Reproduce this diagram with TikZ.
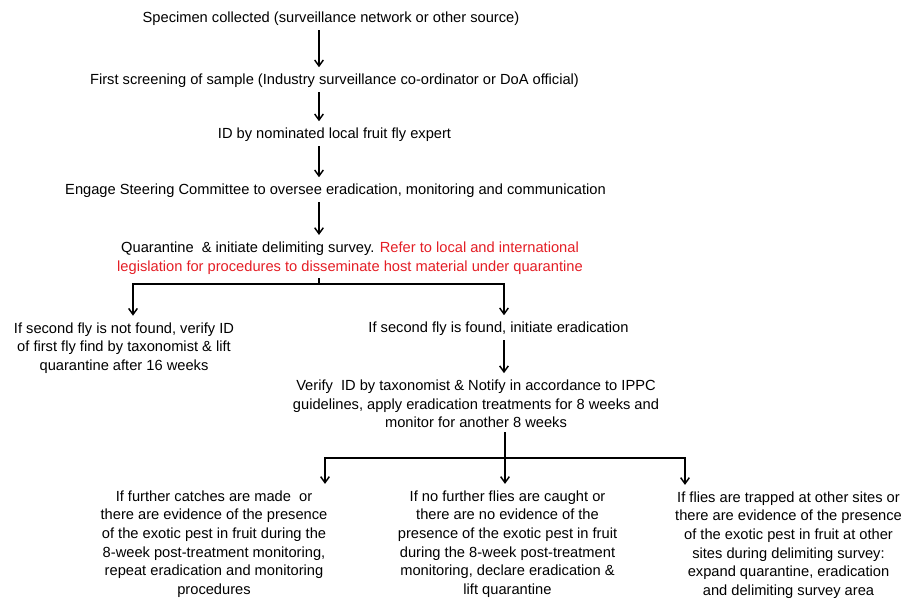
\documentclass[tikz,border=0pt]{standalone}
\usepackage{fontspec}
\setmainfont{Liberation Sans}
\usepackage{tikz}
\usetikzlibrary{arrows.meta}
\definecolor{legalred}{RGB}{228,30,37}
\tikzset{
  stage/.style={
    rectangle,
    %draw=black,
    align=center,
    inner sep=3pt,
    font=\fontsize{11}{13.9}\selectfont
    },
  arrow/.style={
    ->,
    >={Straight Barb[length=4.5pt,width=6.5pt]},
    line width=1.1pt,
    shorten >=2pt
    },
  branch/.style={
    line width=1.1pt
    }
}

\begin{document}
\begin{tikzpicture}[x=0.75pt,y=-0.75pt]
\useasboundingbox (0,0) rectangle (906,598);
\coordinate (trunk) at (319,0);
\coordinate (fork1) at (319,284);
\coordinate (lane1) at (133,0);
\coordinate (lane2) at (504,0);
\coordinate (fork2) at (505,458);
\coordinate (lane3) at (325,0);
\coordinate (lane4) at (685,0);
\node (start) [stage] at (331,19) {Specimen collected (surveillance network or other source)};
\node (node1) [stage] at (334.5,81) {First screening of sample (Industry surveillance co-ordinator or DoA official)};
\node (node2) [stage] at (334.5,135) {ID by nominated local fruit fly expert};
\node (node3) [stage] at (335.5,191) {Engage Steering Committee to oversee eradication, monitoring and communication};
\node (node4) [stage] at (350,258) {Quarantine\ \ \& initiate delimiting survey. \textcolor{legalred}{Refer to local and international}\\
  \textcolor{legalred}{legislation for procedures to disseminate host material under quarantine}};
\node (node5) [stage] at (124,348) {If second fly is not found, verify ID\\ of first fly find by taxonomist \& lift\\ quarantine after 16 weeks};
\node (node6) [stage] at (498.5,329) {If second fly is found, initiate eradication};
\node (node7) [stage] at (476,404) {Verify\ \ ID by taxonomist \& Notify in accordance to IPPC\\ guidelines, apply eradication treatments for 8 weeks and\\ monitor for another 8 weeks};
\node (node8) [stage] at (214,544) {If further catches are made\ \ or\\ there are evidence of the presence\\ of the exotic pest in fruit during the\\ 8-week post-treatment monitoring,\\ repeat eradication and monitoring\\ procedures};
\node (node9) [stage] at (507.5,544) {If no further flies are caught or\\ there are no evidence of the\\ presence of the exotic pest in fruit\\ during the 8-week post-treatment\\ monitoring, declare eradication \&\\ lift quarantine};
\node (node10) [stage] at (788.5,545) {If flies are trapped at other sites or\\ there are evidence of the presence\\ of the exotic pest in fruit at other\\ sites during delimiting survey:\\ expand quarantine, eradication\\ and delimiting survey area};
\draw[arrow] (start.south -| trunk) -- (node1.north -| trunk);
\draw[arrow] (node1.south -| trunk) -- (node2.north -| trunk);
\draw[arrow] (node2.south -| trunk) -- (node3.north -| trunk);
\draw[arrow] (node3.south -| trunk) -- (node4.north -| trunk);
\draw[branch] (node4.south -| trunk) -- (fork1);
\draw[arrow] (fork1) -| (node5.north -| lane1);
\draw[arrow] (fork1) -| (node6.north -| lane2);
\draw[arrow] (node6.south -| lane2) -- (node7.north -| lane2);
\draw[arrow] (node7.south -| fork2) -- (node9.north -| fork2);
\draw[arrow] (fork2) -| (node8.north -| lane3);
\draw[arrow] (fork2) -| (node10.north -| lane4);
\end{tikzpicture}
\end{document}
